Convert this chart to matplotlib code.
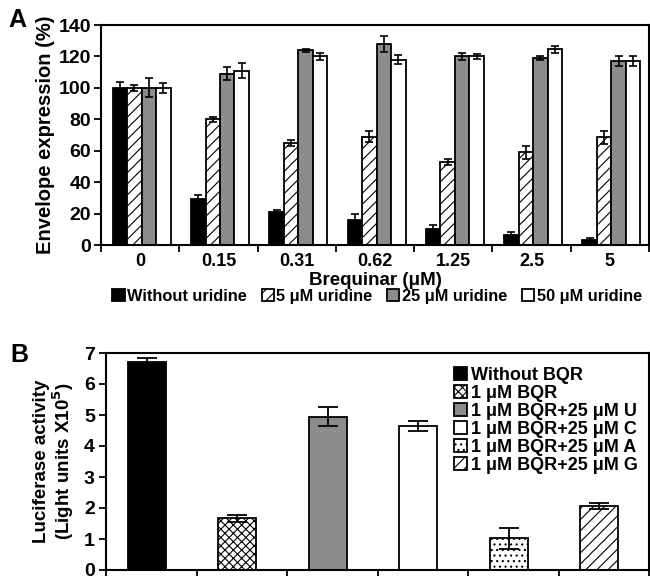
import numpy as np
import matplotlib
matplotlib.use('Agg')
import matplotlib.pyplot as plt

plt.rcParams['font.family'] = ['Liberation Sans', 'DejaVu Sans']
plt.rcParams['font.weight'] = 'bold'
plt.rcParams['axes.labelweight'] = 'bold'
plt.rcParams['mathtext.default'] = 'bf'
plt.rcParams['hatch.linewidth'] = 0.8

# panel A data
doses = ['0', '0.15', '0.31', '0.62', '1.25', '2.5', '5']
series_a = ['Without uridine', '5 \u03bcM uridine', '25 \u03bcM uridine', '50 \u03bcM uridine']
no_uridine = [100, 29, 21, 16, 10, 6.5, 3.5]
no_uridine_err = [4, 3, 1, 4, 3, 2, 1]
uridine5 = [100, 80, 65, 69, 53, 59, 68.5]
uridine5_err = [2, 1.5, 2, 3.5, 2, 4, 4]
uridine25 = [100, 109, 124, 128, 120, 119, 117]
uridine25_err = [6, 4, 1, 5, 2, 1, 3]
uridine50 = [100, 111, 120, 118, 120, 124.5, 117]
uridine50_err = [3, 5, 2, 3, 1.5, 2, 3]

# panel B data
conditions = ['Without BQR', '1 \u03bcM BQR', '1 \u03bcM BQR+25 \u03bcM U',
              '1 \u03bcM BQR+25 \u03bcM C', '1 \u03bcM BQR+25 \u03bcM A',
              '1 \u03bcM BQR+25 \u03bcM G']
luc = [6.7, 1.67, 4.95, 4.65, 1.02, 2.06]
luc_err = [0.15, 0.12, 0.3, 0.17, 0.34, 0.1]

fig = plt.figure(figsize=(6.5, 5.76), dpi=100)

# ---- panel A ----
axA = fig.add_axes([101/650, 331/576, 548/650, 220/576])
x = np.arange(len(doses))
w = 0.185
vals = [no_uridine, uridine5, uridine25, uridine50]
errs = [no_uridine_err, uridine5_err, uridine25_err, uridine50_err]
faces = ['black', 'white', '#8c8c8c', 'white']
hatches = [None, '///', None, None]
for i in range(4):
    axA.bar(x + (i - 1.5) * w + 0.02, vals[i], w, yerr=errs[i], color=faces[i],
            edgecolor='black', linewidth=1.3, hatch=hatches[i], label=series_a[i],
            error_kw=dict(ecolor='black', elinewidth=1.2, capsize=3, capthick=1.2))
axA.set_xlim(-0.5, len(doses) - 0.5)
axA.set_ylim(0, 140)
axA.set_yticks(range(0, 141, 20))
axA.set_xticks(np.arange(len(doses) + 1) - 0.5)
axA.set_xticklabels([])
axA.set_xticks(x, minor=True)
axA.set_xticklabels(doses, minor=True)
axA.tick_params(axis='x', which='minor', length=0, pad=6, labelsize=13)
axA.tick_params(axis='x', which='major', length=5, width=1.3, direction='out')
axA.tick_params(axis='y', length=5, width=1.3, labelsize=14, pad=2)
for s in axA.spines.values():
    s.set_linewidth(1.5)
axA.set_ylabel('Envelope expression (%)', fontsize=14.5, labelpad=3)
axA.set_xlabel('Brequinar (\u03bcM)', fontsize=13.5, labelpad=1)
fig.legend(*axA.get_legend_handles_labels(), loc='center', bbox_to_anchor=(0.58, 0.486),
           ncol=4, frameon=False, fontsize=11.8, handlelength=0.75, handleheight=0.75,
           handletextpad=0.15, columnspacing=0.9, borderaxespad=0)
fig.text(8/650, 1 - 20/576, 'A', fontsize=18, fontweight='bold', va='center')

# ---- panel B ----
axB = fig.add_axes([106/650, 6/576, 543/650, 217/576])
xb = np.arange(len(conditions))
facesB = ['black', 'white', '#8c8c8c', 'white', 'white', 'white']
hatchesB = [None, 'xxxx', None, None, '...', '///']
for i in range(len(conditions)):
    axB.bar(xb[i] - 0.05, luc[i], 0.42, yerr=luc_err[i], color=facesB[i],
            edgecolor='black', linewidth=1.3, hatch=hatchesB[i], label=conditions[i],
            error_kw=dict(ecolor='black', elinewidth=1.3, capsize=7, capthick=1.3))
axB.set_xlim(-0.5, len(conditions) - 0.5)
axB.set_ylim(0, 7)
axB.set_yticks(range(0, 8))
axB.set_xticks(np.arange(len(conditions) + 1) - 0.5)
axB.set_xticklabels([])
axB.tick_params(axis='x', length=5, width=1.3, direction='out')
axB.tick_params(axis='y', length=5, width=1.3, labelsize=14, pad=3)
for s in axB.spines.values():
    s.set_linewidth(1.5)
axB.set_ylabel('Luciferase activity\n(Light units X10$^{5}$)', fontsize=13.5,
               labelpad=6, linespacing=1.0)
axB.legend(loc='upper right', bbox_to_anchor=(1.0, 0.985), frameon=False, fontsize=13,
           handlelength=0.7, handleheight=0.7, handletextpad=0.25, labelspacing=0.05,
           borderaxespad=0.2)
fig.text(10/650, 1 - 355/576, 'B', fontsize=18, fontweight='bold', va='center')

fig.savefig('out.png', dpi=100)
